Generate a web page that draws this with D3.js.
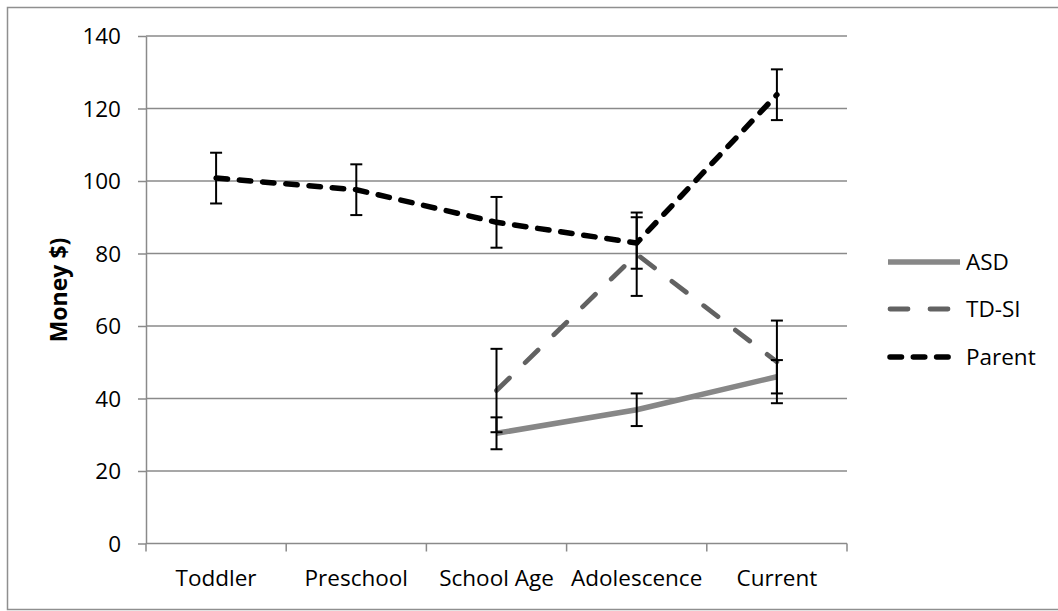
<!DOCTYPE html>
<html>
<head>
<meta charset="utf-8">
<script src="https://cdn.jsdelivr.net/npm/d3@7/dist/d3.min.js"></script>
<style>
  html, body { margin: 0; padding: 0; background: #fff; }
  svg { display: block; }
  text { font-family: "Open Sans", "Noto Sans", sans-serif; fill: #000; }
</style>
</head>
<body>
<svg id="chart" width="1058" height="611"></svg>
<script>
// Developmental stages on the x axis
const categories = ["Toddler", "Preschool", "School Age", "Adolescence", "Current"];

// Mean money values per group (null = not measured at that stage)
const asdValues    = [null, null, 30.4, 36.9, 46.0];
const tdsiValues   = [null, null, 42.2, 79.8, 50.1];
const parentValues = [100.8, 97.6, 88.6, 82.9, 123.8];

// Error bar half-widths
const asdErrors    = [null, null, 4.4, 4.5, 4.6];
const tdsiErrors   = [null, null, 11.5, 11.5, 11.4];
const parentErrors = [7.0, 7.0, 7.0, 7.1, 7.0];

// Y axis ticks
const yTicks = [0, 20, 40, 60, 80, 100, 120, 140];

const seriesNames = ["ASD", "TD-SI", "Parent"];

const series = [
  { name: seriesNames[0], values: asdValues, errors: asdErrors,
    color: "#878787", width: 5.5, dash: null, cap: "butt" },
  { name: seriesNames[1], values: tdsiValues, errors: tdsiErrors,
    color: "#626262", width: 4.8, dash: "18 22", cap: "round" },
  { name: seriesNames[2], values: parentValues, errors: parentErrors,
    color: "#000000", width: 5.5, dash: "11.5 11.8", cap: "round" }
];

const svg = d3.select("#chart");
const plot = { left: 146, right: 847, top: 36, bottom: 543.5 };
const gridColor = "#8a8a8a";

// Outer chart border
svg.append("rect")
  .attr("x", 7.5).attr("y", 7.5)
  .attr("width", 1070).attr("height", 602)
  .attr("fill", "none").attr("stroke", "#8f8f8f").attr("stroke-width", 1.5);

const x = d3.scaleBand().domain(categories).range([plot.left, plot.right]);
const y = d3.scaleLinear().domain([0, 140]).range([plot.bottom, plot.top]);

// Horizontal gridlines
svg.append("g").selectAll("line")
  .data(yTicks.filter(t => t > 0))
  .join("line")
  .attr("x1", plot.left).attr("x2", plot.right)
  .attr("y1", d => y(d)).attr("y2", d => y(d))
  .attr("stroke", gridColor).attr("stroke-width", 1.5);

// Y axis
const yAxis = svg.append("g")
  .attr("transform", `translate(${plot.left},0)`)
  .call(d3.axisLeft(y).tickValues(yTicks).tickSize(8).tickPadding(17).tickSizeOuter(0));
yAxis.select(".domain").attr("stroke", gridColor).attr("stroke-width", 1.5);
yAxis.selectAll(".tick line").attr("stroke", gridColor).attr("stroke-width", 1.5);
yAxis.selectAll(".tick text")
  .attr("font-size", "22.5px").attr("font-family", "Open Sans").attr("fill", "#000")
  .attr("dy", "0.35em");

// X axis with boundary ticks between categories
const xAxisG = svg.append("g");
xAxisG.append("line")
  .attr("x1", plot.left).attr("x2", plot.right)
  .attr("y1", plot.bottom).attr("y2", plot.bottom)
  .attr("stroke", gridColor).attr("stroke-width", 1.5);
const boundaries = categories.map(c => x(c)).concat([x(categories[categories.length - 1]) + x.bandwidth()]);
xAxisG.selectAll("line.tick")
  .data(boundaries)
  .join("line")
  .attr("class", "tick")
  .attr("x1", d => d).attr("x2", d => d)
  .attr("y1", plot.bottom).attr("y2", plot.bottom + 8)
  .attr("stroke", gridColor).attr("stroke-width", 1.5);
xAxisG.selectAll("text")
  .data(categories)
  .join("text")
  .attr("x", d => x(d) + x.bandwidth() / 2)
  .attr("y", 586)
  .attr("text-anchor", "middle")
  .attr("font-size", "22.5px")
  .text(d => d);

// Y axis title
svg.append("text")
  .attr("transform", `translate(67,290) rotate(-90)`)
  .attr("text-anchor", "middle")
  .attr("font-size", "23px")
  .attr("font-weight", "bold")
  .text("Money $)");

const cx = c => x(c) + x.bandwidth() / 2;

// Series lines
series.forEach(s => {
  const pts = categories.map((c, i) => ({ c, v: s.values[i] })).filter(p => p.v != null);
  const line = d3.line().x(p => cx(p.c)).y(p => y(p.v));
  svg.append("path")
    .datum(pts)
    .attr("d", line)
    .attr("fill", "none")
    .attr("stroke", s.color)
    .attr("stroke-width", s.width)
    .attr("stroke-linecap", s.cap)
    .attr("stroke-linejoin", "round")
    .attr("stroke-dasharray", s.dash);
});

// Error bars
series.forEach(s => {
  const pts = categories.map((c, i) => ({ c, v: s.values[i], e: s.errors[i] })).filter(p => p.v != null);
  const g = svg.append("g").attr("stroke", "#000").attr("stroke-width", 2);
  pts.forEach(p => {
    const xc = cx(p.c);
    g.append("line").attr("x1", xc).attr("x2", xc)
      .attr("y1", y(p.v - p.e)).attr("y2", y(p.v + p.e));
    [p.v - p.e, p.v + p.e].forEach(v => {
      g.append("line").attr("x1", xc - 6).attr("x2", xc + 6)
        .attr("y1", y(v)).attr("y2", y(v));
    });
  });
});

// Legend
const legendY = [262, 309, 357];
const legend = svg.append("g");
series.forEach((s, i) => {
  legend.append("line")
    .attr("x1", s.cap === "round" ? 890 : 888).attr("x2", s.cap === "round" ? 958 : 960)
    .attr("y1", legendY[i]).attr("y2", legendY[i])
    .attr("stroke", s.color)
    .attr("stroke-width", s.width)
    .attr("stroke-linecap", s.cap)
    .attr("stroke-dasharray", s.dash);
  legend.append("text")
    .attr("x", 966).attr("y", legendY[i])
    .attr("dy", "0.35em")
    .attr("font-size", "22.5px")
    .text(s.name);
});
</script>
</body>
</html>
